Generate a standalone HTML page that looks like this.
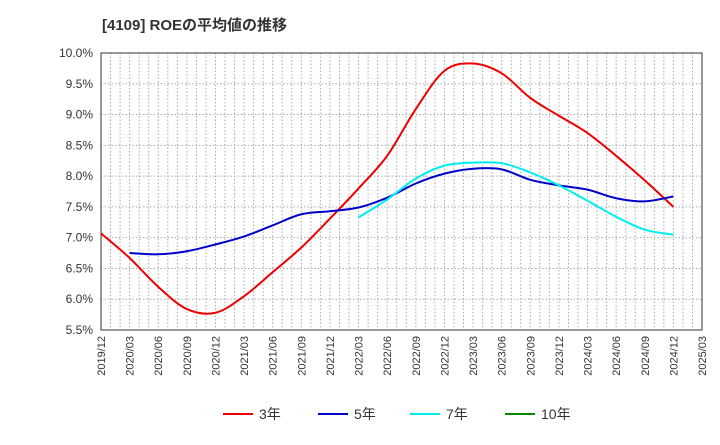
<!DOCTYPE html>
<html><head><meta charset="utf-8"><style>
body{margin:0;background:#fff;font-family:"Liberation Sans","Noto Sans CJK JP",sans-serif}
</style></head><body>
<svg width="720" height="440" xmlns="http://www.w3.org/2000/svg">
<text x="102" y="30" font-size="15" font-weight="bold" fill="#333" font-family="Liberation Sans, Noto Sans CJK JP, sans-serif">[4109]  ROEの平均値の推移</text>
<g id="grid"></g>
<g id="axes"></g>
<g id="series"></g>
<g id="legend"></g>
</svg>
<script>
const xLabels=["2019/12","2020/03","2020/06","2020/09","2020/12","2021/03","2021/06","2021/09","2021/12","2022/03","2022/06","2022/09","2022/12","2023/03","2023/06","2023/09","2023/12","2024/03","2024/06","2024/09","2024/12","2025/03"];
const yTicks=[5.5,6.0,6.5,7.0,7.5,8.0,8.5,9.0,9.5,10.0];
const roe3=[7.07,6.67,6.2,5.84,5.78,6.05,6.44,6.84,7.31,7.8,8.33,9.09,9.71,9.83,9.67,9.27,8.98,8.7,8.33,7.93,7.5];
const roe5=[null,6.75,6.73,6.78,6.89,7.02,7.2,7.38,7.43,7.49,7.65,7.88,8.04,8.12,8.11,7.94,7.85,7.78,7.64,7.59,7.67];
const roe7=[null,null,null,null,null,null,null,null,null,7.33,7.62,7.96,8.17,8.22,8.21,8.06,7.85,7.6,7.34,7.13,7.05];
const roe10=[];
const L=101,R=702,T=53,B=330,NS="http://www.w3.org/2000/svg";
const xs=i=>L+i*(R-L)/(xLabels.length-1);
const ys=v=>B-(v-5.5)*(B-T)/4.5;
function mk(t,a,p){const e=document.createElementNS(NS,t);for(const k in a)e.setAttribute(k,a[k]);p.appendChild(e);return e;}
const grid=document.getElementById('grid'),axes=document.getElementById('axes'),ser=document.getElementById('series'),leg=document.getElementById('legend');
const months=(xLabels.length-1)*3;
for(let m=1;m<months;m++){const x=L+m*(R-L)/months;const g=mk('line',{x1:x,x2:x,y1:T,y2:B,stroke:'#aaa','stroke-dasharray':'1.5,2','stroke-width':1},grid);}
yTicks.forEach(v=>{const y=ys(v);if(v>5.5&&v<10){const g=mk('line',{x1:L,x2:R,y1:y,y2:y,stroke:'#aaa','stroke-dasharray':'1.5,2'},grid);}
const t=mk('text',{x:L-8,y:y+4,'text-anchor':'end','font-size':12,fill:'#333'},axes);t.textContent=v.toFixed(1)+'%';});
const fr=mk('rect',{x:L,y:T,width:R-L,height:B-T,fill:'none',stroke:'#333'},axes);
xLabels.forEach((l,i)=>{const x=xs(i);const t=mk('text',{x:0,y:0,'text-anchor':'end','font-size':11,fill:'#333',transform:`translate(${x+4},${B+6}) rotate(-90)`},axes);t.textContent=l;});
function path(arr){const p=[];arr.forEach((v,i)=>{if(v!=null)p.push([xs(i),ys(v)]);});if(p.length<2)return '';let d=`M${p[0][0]},${p[0][1]}`;for(let i=0;i<p.length-1;i++){const p0=p[i-1]||p[i],p1=p[i],p2=p[i+1],p3=p[i+2]||p2;d+=` C${p1[0]+(p2[0]-p0[0])/6},${p1[1]+(p2[1]-p0[1])/6} ${p2[0]-(p3[0]-p1[0])/6},${p2[1]-(p3[1]-p1[1])/6} ${p2[0]},${p2[1]}`;}return d;}
[[roe3,'#e00','line-3yr'],[roe5,'#00c','line-5yr'],[roe7,'#0ee','line-7yr'],[roe10,'#080','line-10yr']].forEach(([a,c,n])=>{const d=path(a);if(!d)return;const e=mk('path',{d:d,fill:'none',stroke:c,'stroke-width':2},ser);});
[['3年','#e00',223],['5年','#00c',318],['7年','#0ee',410],['10年','#080',505]].forEach(([l,c,x])=>{const g=mk('g',{},leg);mk('line',{x1:x,x2:x+30,y1:414,y2:414,stroke:c,'stroke-width':2},g);const t=mk('text',{x:x+36,y:419,'font-size':14,fill:'#333'},g);t.textContent=l;});
</script>
</body></html>
